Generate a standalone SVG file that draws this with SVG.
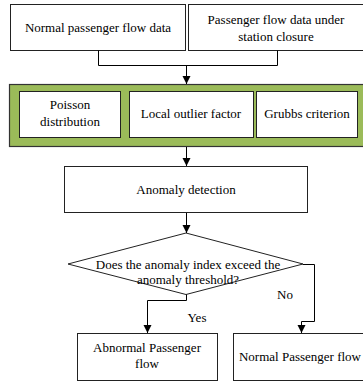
<svg xmlns="http://www.w3.org/2000/svg" width="363" height="384" viewBox="0 0 363 384">
<defs>
<marker id="ah" markerWidth="8" markerHeight="10" refX="8" refY="4" orient="auto" markerUnits="userSpaceOnUse">
<path d="M0,0 L8,4 L0,8 Z" fill="#000"/>
</marker>
<style>
.box{fill:#fff;stroke:#222;stroke-width:1}
.grn{fill:#9bbb59;stroke:#333;stroke-width:1.2}
.ln{fill:none;stroke:#000;stroke-width:1}
.t{font-family:'Liberation Serif','DejaVu Serif',serif;font-size:13px;fill:#000;text-anchor:middle}
</style>
</defs>
<g font-family="Liberation Serif, DejaVu Serif, serif">
<g id="n-normal-data">
<rect class="box" x="10.5" y="4.5" width="175" height="46"/>
<text class="t" x="98" y="32">Normal passenger flow data</text>
</g>
<g id="n-closure-data">
<rect class="box" x="188.5" y="4.5" width="176" height="46"/>
<text class="t" x="276" y="24">Passenger flow data under</text>
<text class="t" x="276" y="41">station closure</text>
</g>
<g id="n-methods">
<rect class="grn" x="9.5" y="84.5" width="356" height="62"/>
</g>
<g id="n-poisson">
<rect class="box" x="19.5" y="91.5" width="101" height="46"/>
<text class="t" x="70" y="109">Poisson</text>
<text class="t" x="70" y="126">distribution</text>
</g>
<g id="n-lof">
<rect class="box" x="129.5" y="91.5" width="124" height="46"/>
<text class="t" x="191" y="118">Local outlier factor</text>
</g>
<g id="n-grubbs">
<rect class="box" x="256.5" y="91.5" width="101" height="46"/>
<text class="t" x="307" y="118">Grubbs criterion</text>
</g>
<g id="n-anomaly">
<rect class="box" x="64.5" y="166.5" width="243" height="46"/>
<text class="t" x="186" y="194">Anomaly detection</text>
</g>
<g id="n-decision">
<polygon class="box" points="186,233 68,264 186,294.5 303,264"/>
<text class="t" x="188" y="269">Does the anomaly index exceed the</text>
<text class="t" x="188" y="284">anomaly threshold?</text>
</g>
<g id="n-abnormal">
<rect class="box" x="77.5" y="333.5" width="140" height="47"/>
<text class="t" x="147" y="352">Abnormal Passenger</text>
<text class="t" x="147" y="368">flow</text>
</g>
<g id="n-normal">
<rect class="box" x="233.5" y="333.5" width="132" height="47"/>
<text class="t" x="300" y="361">Normal Passenger flow</text>
</g>
<g id="connectors">
<polyline class="ln" points="98.5,50.5 98.5,65.5 277.5,65.5 277.5,50.5"/>
<line class="ln" x1="186.5" y1="65.5" x2="186.5" y2="84" marker-end="url(#ah)"/>
<line class="ln" x1="186.5" y1="147" x2="186.5" y2="166" marker-end="url(#ah)"/>
<line class="ln" x1="186.5" y1="213" x2="186.5" y2="233" marker-end="url(#ah)"/>
<polyline class="ln" points="186.5,294.5 186.5,300.5 147.5,300.5 147.5,333" marker-end="url(#ah)"/>
<polyline class="ln" points="303,264.5 314.5,264.5 314.5,321.5 301.5,321.5 301.5,333" marker-end="url(#ah)"/>
<text class="t" x="197" y="322">Yes</text>
<text class="t" x="285" y="299">No</text>
</g>
</g>
</svg>
